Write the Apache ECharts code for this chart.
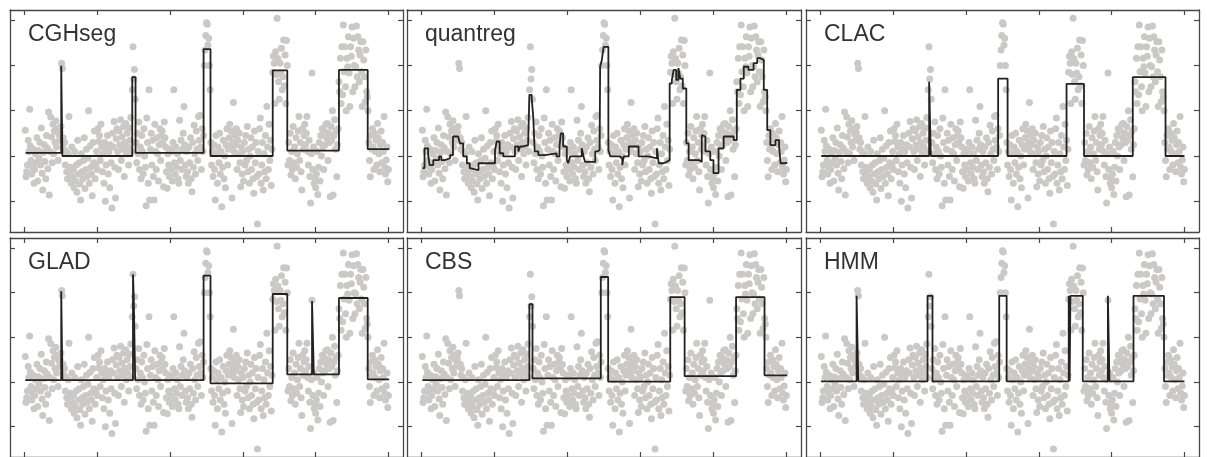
<!DOCTYPE html>
<html>
<head>
<meta charset="utf-8">
<script src="https://cdn.jsdelivr.net/npm/echarts@6/dist/echarts.min.js"></script>
<style>
  html, body { margin: 0; padding: 0; background: #fff; }
  #chart { width: 1207px; height: 457px; }
</style>
</head>
<body>
<div id="chart"></div>
<script>
// probe values (same in every panel), index 1..500
const probeValues = [
  0.57, -0.46, -0.35, -0.2, 0.35, 0.1, 1.03, 0.22, -0.1, -0.4,
  -0.25, 0.15, -0.6, -0.3, 0.05, -0.15, 0.4, -0.55, 0.12, -0.05,
  0.3, -0.2, 0.62, -0.38, -0.75, 0.08, 0.25, -0.12, -0.5, 0.45,
  0.18, -0.28, 0.97, -0.86, 0.1, 0.86, 0.42, -0.15, 0.7, 0.05,
  0.55, 0.3, 0.78, 0.2, 0.6, -0.1, 0.48, 0.35, 0.52, 0.65,
  2.05, 1.93, 0.4, 0.15, 0.3, -0.2, 0.1, -0.35, -0.5, 0.05,
  0.87, -0.4, -0.25, -0.6, 0.2, -0.45, -0.3, -0.7, 0.1, -0.55,
  -0.2, -0.8, 0.35, -0.4, -0.15, -0.62, -0.97, 0.05, -0.35, -0.5,
  -0.1, 0.4, -0.72, -0.3, 0.15, -0.45, -0.05, 1.0, -0.6, 0.22,
  -0.25, -0.4, -0.88, 0.3, -0.15, 0.55, -0.5, -0.2, 0.1, -0.3,
  0.6, 0.32, 0.45, -0.1, 0.7, 0.2, -0.35, 0.05, -0.6, 0.3,
  -1.0, -0.2, 0.15, 0.45, -0.4, 0.1, -0.7, 0.25, -0.15, -1.15,
  0.5, 0.2, 0.76, -0.25, -0.93, 0.38, 0.6, 0.1, -0.3, 0.55,
  0.25, 0.8, -0.1, 0.42, 0.15, 0.65, -0.45, 0.3, 0.72, 0.05,
  0.5, 0.2, -0.2, 0.62, 0.35, 0.85, 0.1, 1.46, 2.41, 1.70,
  1.91, 1.25, 0.3, -0.15, 0.5, 0.05, 0.75, -0.3, 0.2, -0.5,
  0.45, 0.1, -0.4, 0.6, 0.0, -0.25, -1.1, 0.84, 0.3, -0.6,
  1.46, -0.97, 0.15, 0.5, -0.2, 0.35, -0.45, -0.97, 0.7, 0.1,
  -0.3, 0.4, 0.05, -0.55, 0.25, 0.6, -0.1, 0.45, 0.55, 0.3,
  -0.68, 0.75, 0.4, 0.2, -0.35, -0.71, 0.05, -0.2, -0.45, 0.15,
  -0.3, 0.1, -0.55, 0.3, 1.46, -0.15, -0.4, 0.2, -0.25, 0.05,
  -0.5, -0.6, 0.79, -0.1, 0.35, -0.3, 0.15, 0.5, 1.09, 0.25,
  -0.2, -0.45, 0.1, -0.35, -0.6, 0.2, -0.15, 0.4, -0.5, -0.79,
  0.3, -0.25, 0.68, 0.05, -0.4, 0.55, 0.15, -0.1, 0.87, 0.35,
  0.9, 0.2, -0.3, 0.6, 0.1, 0.45, 2.0, 2.34, 2.66, 2.94,
  2.91, 2.45, 2.6, 2.0, 1.46, 0.3, -0.2, 0.1, -0.45, 0.25,
  -0.3, -0.97, 0.45, 0.05, -0.6, 0.2, -0.15, 0.5, -0.4, 0.1,
  -1.12, -0.25, 0.35, -0.5, 0.0, -0.7, 0.25, 0.6, -0.2, 0.15,
  0.4, 0.7, 0.2, 0.55, -0.93, 0.3, 1.18, 0.1, 0.45, 0.25,
  0.6, -0.3, 0.35, 0.05, 0.5, -0.15, -0.68, 0.2, -0.4, 0.1,
  -0.55, 0.3, -0.2, 0.45, -0.1, 0.65, -0.35, 0.15, -0.6, 0.0,
  0.4, -0.3, 0.2, -0.5, -0.82, 0.55, -0.15, 0.3, -0.45, -1.5,
  0.1, -0.4, 0.6, 0.84, -0.6, -0.2, 0.3, -0.75, 0.05, -0.35,
  0.45, -0.5, 1.09, 0.2, -0.3, 0.7, -0.1, 0.35, -0.65, 0.15,
  1.85, 2.2, 2.05, 1.16, 2.3, 1.8, 3.04, 2.15, 1.64, 1.25,
  2.05, 1.83, 2.38, 1.46, 1.75, 2.56, 1.55, 2.23, 1.16, 2.55,
  2.0, -0.2, 0.3, -0.1, 0.5, -0.42, 0.1, -0.3, 0.65, -0.15,
  0.2, -0.5, 0.4, -0.25, 0.05, 0.55, 0.87, -0.1, 0.3, -0.35,
  -0.75, 0.6, 0.15, 0.45, 0.7, 0.25, 0.5, 0.87, 0.1, -0.2,
  0.35, -0.45, -1.04, 0.05, 1.83, -0.3, 0.2, -0.6, -0.5, -0.7,
  -0.4, 0.1, -0.85, -0.25, 0.3, -0.55, 0.45, 0.0, 0.6, 0.2,
  -0.3, 0.55, 0.25, 0.7, 0.4, 0.72, -0.1, 0.5, 0.3, -0.9,
  0.65, 0.35, 1.0, -0.86, 0.45, 0.8, 0.15, 0.55, -0.46, 0.25,
  0.6, 1.64, 1.42, 2.16, 1.16, 2.41, 1.35, 2.89, 1.86, 2.41,
  1.53, 1.0, 2.16, 1.97, 2.63, 1.83, 1.09, 2.41, 2.2, 2.85,
  1.42, 2.6, 2.0, 1.53, 1.97, 2.87, 1.75, 2.63, 2.34, 1.64,
  2.23, 2.52, 1.86, 1.09, 2.52, 2.12, 1.75, 1.2, 2.34, 1.42,
  1.3, 1.0, 0.3, -0.1, -0.46, 0.45, 0.15, 0.6, 0.2, -0.3,
  0.5, 0.1, 0.35, -0.2, 0.72, 0.4, 0.05, -0.35, 0.25, 0.55,
  -0.15, 0.3, 0.1, 0.87, -0.25, -0.4, -0.09, 0.2, -0.57, -0.3
];

const xTicks = [0, 100, 200, 300, 400, 500];
const yTicks = [-1, 0, 1, 2, 3];
const methodNames = ['CGHseg', 'quantreg', 'CLAC', 'GLAD', 'CBS', 'HMM'];

// segment breakpoints (probe index) and segment levels per method
const cghsegBreaks = [1.4, 50.4, 52, 148, 152.5, 246, 255.5, 341, 361, 432, 471.5, 501];
const cghsegLevels = [0.07, 1.99, 0, 1.74, 0.07, 2.36, 0, 1.89, 0.12, 1.9, 0.15];

const clacBreaks = [1, 149.2, 151.5, 244, 257, 338, 362, 429, 474, 500];
const clacLevels = [0, 1.64, 0, 1.71, 0, 1.59, 0, 1.74, 0];

const gladBreaks = [1, 50.4, 52, 149, 150, 152, 246, 255.5, 341, 361, 395, 397.5, 432, 471.5, 501];
const gladLevels = [0.044, 2.03, 0.044, 2.41, 1.92, 0.044, 2.38, -0.03, 1.97, 0.17, 1.81, 0.17, 1.88, 0.06];

const cbsBreaks = [1, 147.7, 152, 245.6, 255.7, 340.8, 360.5, 431, 470, 501];
const cbsLevels = [0.044, 1.74, 0.08, 2.35, 0.007, 1.9, 0.13, 1.9, 0.15];

const hmmBreaks = [0.5, 49.5, 51.8, 147, 153.8, 245.5, 255.7, 341, 342.3, 343.3, 360.3, 394.8, 397, 430, 471.9, 500];
const hmmLevels = [0.015, 1.93, 0.015, 1.93, 0.015, 1.93, 0.015, 1.93, 0.015, 1.93, 0.015, 1.93, 0.015, 1.93, 0.015];

// quantreg: step changes (index, level)
const quantregX = [1, 4, 9, 11, 16, 24, 27, 32, 39, 43, 50, 52.6, 57, 62, 66, 68.6, 78, 100.6, 103, 107,
  112, 128, 132.6, 135, 139.5, 146, 147.7, 150.9, 153, 155, 160, 169, 185, 189, 190.8, 194, 199, 201,
  203.5, 219.5, 222, 224, 238, 241, 244, 244.7, 247, 249.5, 256, 258.6, 272, 275, 277, 284, 297.4, 311,
  322.6, 325, 331.6, 336, 340, 343, 345.5, 349, 352, 354.6, 358, 362.8, 366, 380, 384, 386.6, 389, 395.6,
  400, 407, 414, 427.8, 432, 437, 441.6, 448, 455, 460, 464, 469, 473.7, 478, 485, 490, 492, 500];
const quantregY = [-0.27, 0.17, 0.02, -0.2, -0.09, -0.01, -0.09, -0.05, 0.02, 0.43, 0.46, 0.28, -0.01, -0.16, -0.27, -0.31, -0.16, 0.13, 0.32, 0.06,
  -0.01, 0.21, 0.1, 0.21, 0.24, 0.28, 1.35, 1.27, 0.87, 0.1, 0.02, 0.06, -0.01, 0.21, 0.5, 0.21, -0.09, -0.16,
  -0.01, 0.17, -0.01, -0.13, 0.1, 0.13, 0.1, 1.97, 2.12, 2.41, 0.13, -0.01, -0.05, -0.2, -0.01, 0.21, -0.01, -0.05,
  0.17, -0.16, -0.13, -0.09, 1.6, 1.68, 1.9, 1.68, 1.94, 1.71, 1.49, 0.28, -0.09, -0.13, 0.46, 0.43, 0.1, -0.09,
  -0.38, 0.17, 0.43, 0.35, 1.46, 1.71, 1.97, 1.9, 2.05, 2.16, 2.12, 1.46, 0.57, 0.24, 0.35, 0.21, -0.16, -0.13];

function segLine(breaks, levels) {
  const pts = [];
  for (let k = 0; k < levels.length; k++) {
    pts.push([breaks[k], levels[k]]);
    pts.push([breaks[k + 1], levels[k]]);
  }
  return pts;
}

const fits = [
  { data: segLine(cghsegBreaks, cghsegLevels), step: false },
  { data: quantregX.map((x, i) => [x, quantregY[i]]), step: 'end' },
  { data: segLine(clacBreaks, clacLevels), step: false },
  { data: segLine(gladBreaks, gladLevels), step: false },
  { data: segLine(cbsBreaks, cbsLevels), step: false },
  { data: segLine(hmmBreaks, hmmLevels), step: false }
];

const points = probeValues.map((v, i) => [i + 1, v]);

const colLeft = [10, 407, 806];
const colWidth = [393, 394, 393];
const rowTop = [10, 238];
const panelHeight = 222;

const frame = { lineStyle: { color: '#474747', width: 1.3 } };
const grids = [], xAxes = [], yAxes = [], series = [], labels = [];

methodNames.forEach((name, p) => {
  const c = p % 3, r = Math.floor(p / 3);
  grids.push({ left: colLeft[c], top: rowTop[r], width: colWidth[c], height: panelHeight });
  ['bottom', 'top'].forEach(pos => {
    xAxes.push({
      gridIndex: p, type: 'value', position: pos, min: -20, max: 520,
      axisLine: { show: true, onZero: false, ...frame },
      axisTick: { show: true, inside: true, length: 5, customValues: xTicks, lineStyle: { color: '#474747', width: 1.2 } },
      axisLabel: { show: false, customValues: xTicks },
      splitLine: { show: false }
    });
  });
  ['left', 'right'].forEach(pos => {
    yAxes.push({
      gridIndex: p, type: 'value', position: pos, min: -1.678, max: 3.223,
      axisLine: { show: true, onZero: false, ...frame },
      axisTick: { show: true, inside: true, length: 5, customValues: yTicks, lineStyle: { color: '#474747', width: 1.2 } },
      axisLabel: { show: false, customValues: yTicks },
      splitLine: { show: false }
    });
  });
  series.push({
    type: 'scatter', xAxisIndex: p * 2, yAxisIndex: p * 2, data: points,
    symbolSize: 7, itemStyle: { color: '#cbc9c7', opacity: 1 }, silent: true, z: 1
  });
  series.push({
    type: 'line', xAxisIndex: p * 2, yAxisIndex: p * 2, data: fits[p].data, step: fits[p].step,
    showSymbol: false, symbol: 'none', silent: true, z: 3,
    lineStyle: { color: '#222', width: 1.8 }
  });
  labels.push({
    type: 'text', left: colLeft[c] + 18, top: rowTop[r] + 13, silent: true,
    style: { text: name, font: '23px "Liberation Sans", Arial, sans-serif', fill: '#333' }
  });
});

const chart = echarts.init(document.getElementById('chart'), null, { renderer: 'canvas' });
chart.setOption({
  backgroundColor: '#fff',
  animation: false,
  grid: grids,
  xAxis: xAxes,
  yAxis: yAxes,
  series: series,
  graphic: labels
});
</script>
</body>
</html>
